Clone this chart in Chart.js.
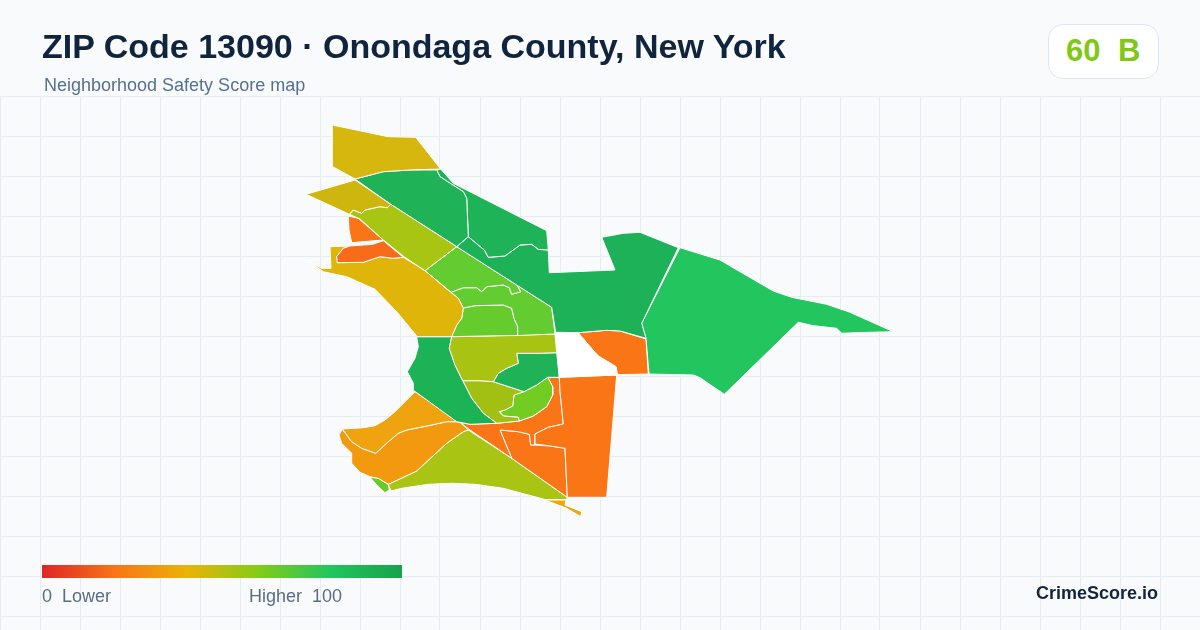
<!DOCTYPE html>
<html><head><meta charset="utf-8">
<script src="https://cdn.jsdelivr.net/npm/chart.js@4"></script>
<style>
html,body{margin:0;padding:0;background:#f8fafc;width:1200px;height:630px;overflow:hidden;font-family:"Liberation Sans",Arial,sans-serif}
#wrap{position:relative;width:1200px;height:630px}
canvas{position:absolute;left:0;top:0}
.t{position:absolute;white-space:pre;line-height:1}
#title{left:42px;top:29px;font-size:34px;font-weight:700;color:#10243e}
#sub{left:44px;top:76px;font-size:18px;color:#56708f}
#badge{position:absolute;left:1048px;top:24px;width:109px;height:53px;background:#fff;border:1px solid #dde5ef;border-radius:15px}
#score{left:1066px;top:35px;font-size:31px;font-weight:700;color:#7fc916}
#grade{left:1118px;top:35px;font-size:31px;font-weight:700;color:#7fc916}
#bar{position:absolute;left:42px;top:565px;width:360px;height:13px;background:linear-gradient(90deg,#dc2626 0%,#f97316 20%,#eab308 40%,#84cc16 60%,#22c55e 80%,#16a34a 100%)}
#lo{left:42px;top:587px;font-size:18px;color:#5b6c85}
#hi{left:249px;top:587px;font-size:18px;color:#5b6c85}
#brand{right:42px;top:584px;font-size:18px;font-weight:700;color:#14243c}
</style></head><body>
<div id="wrap">
<canvas id="c" width="1200" height="630"></canvas>
<div class="t" id="title">ZIP Code 13090 · Onondaga County, New York</div>
<div class="t" id="sub">Neighborhood Safety Score map</div>
<div id="badge"></div><div class="t" id="score">60</div><div class="t" id="grade">B</div>
<div id="bar"></div>
<div class="t" id="lo">0  Lower</div><div class="t" id="hi">Higher  100</div>
<div class="t" id="brand">CrimeScore.io</div>
</div>
<script>
const gridX=[0,40,80,120,160,200,240,280,320,360,400,440,480,520,560,600,640,680,720,760,800,840,880,920,960,1000,1040,1080,1120,1160,1200];
const gridY=[96,136,176,216,256,296,336,376,416,456,496,536,576,616];

const northGold=[[332.3,125],[388.3,136.7],[415.7,137.3],[440.7,169],[410,170],[383.3,171.7],[355,179],[332.7,166.7]];
const westWedge=[[306,194.3],[355,180],[390.7,204.3],[387.3,207.7],[380,206.7],[365,210],[361.7,213.3],[353.3,210],[349.3,214.3]];
const northOlive=[[390.7,204.3],[456.7,246.7],[425,270.7],[404,256.7],[383.3,240],[360,219],[349.3,214.3],[353.3,210],[361.7,213.3],[365,210],[380,206.7],[387.3,207.7]];
const redUpper=[[348.3,216],[358.3,218.3],[383.3,240],[351.7,242.7],[349,230]];
const redLower=[[350,246],[372.7,244.3],[383.3,240.7],[403.3,257.3],[393.3,258.3],[380,256.7],[363.3,262.3],[337.3,262.7],[336.7,256.7],[343.3,248.3]];
const westGold=[[330,246.7],[350,246],[343.3,248.3],[336.7,256.7],[337.3,262.7],[363.3,262.3],[380,256.7],[393.3,258.3],[403.3,257.3],[425,270.7],[450,291.7],[458.3,298.3],[463.3,308.3],[461.7,318.3],[456.7,325],[451.7,336.7],[417.3,336.7],[396.7,311.7],[375,289.3],[346.7,276.7],[323.3,271.7],[309.3,261.7],[321.7,268.3],[331,268.3]];
const northGreen=[[355,179],[383.3,171.7],[410,170],[436.7,170],[440,176.7],[463.3,191.7],[466.7,198.3],[468.3,236.7],[456.7,246.7],[390.7,204.3]];
const northEastGreen=[[440.7,169],[453.3,183.3],[546.7,230.7],[548.3,250],[538.3,249.3],[531.7,244.3],[520,245],[505,256],[488.3,257.3],[484.3,250],[468.3,236.7],[466.7,198.3],[463.3,191.7],[440,176.7],[436.7,170]];
const centralGreen=[[456.7,246.7],[468.3,236.7],[484.3,250],[488.3,257.3],[505,256],[520,245],[531.7,244.3],[538.3,249.3],[548.3,250],[549.3,272.7],[615,270],[601.7,237.3],[623.3,233.3],[640,232.3],[678.3,247.7],[641.7,323.3],[646,338.3],[620,331],[606.7,330.3],[578.3,332.7],[555.7,332.3],[551.7,307.3],[516.7,285]];
const eastGreen=[[680,247.7],[720,260],[740,271.7],[773.3,291],[791.7,297.3],[826.7,304.3],[850,312.3],[893.3,331.7],[855,332.7],[841.7,333.3],[836.7,328.3],[813.3,325.7],[798.3,322.3],[724.3,394.3],[700,377.7],[693.3,375],[649,374],[646,338.3],[641.7,323.3]];
const eastOrange=[[578.3,332.7],[606.7,330.3],[620,331],[646,339],[648.3,374],[617.3,374.7],[616,366.7],[598.3,356],[590,346.7]];
const blankZone=[[555.7,333],[578.3,333],[590,346.7],[598.3,356],[616,366.7],[617.3,375],[559.3,377.3]];
const limeNorth=[[456.7,246.7],[516.7,285],[520.7,291.7],[511.7,294.3],[509.3,287.7],[503.3,285],[486.7,286.7],[481.7,291.7],[476.7,287.7],[463.3,287.7],[451,292.3],[425,270.7]];
const limeEast=[[516.7,285],[551.7,307.3],[555,334],[517.7,335.5],[517.7,326.7],[514,318.3],[511.7,308.3],[503.3,305],[475,305.7],[463.3,308],[458.3,298.3],[451,292.3],[463.3,287.7],[476.7,287.7],[481.7,291.7],[486.7,286.7],[503.3,285],[509.3,287.7],[511.7,294.3],[520.7,291.7]];
const limeSouth=[[463.3,308],[475,305.7],[503.3,305],[511.7,308.3],[514,318.3],[517.7,326.7],[517.7,335.5],[483.3,336],[451.7,336.7],[456.7,325],[461.7,318.3]];
const centralOlive=[[451.7,336.7],[486.7,336],[555,334],[556.7,352.7],[540,353.3],[516.7,353.3],[518.3,363.3],[506.7,368.3],[498.3,373.3],[493.3,381.7],[480,380.7],[462.7,380.7],[455,365],[449.3,348.3]];
const innerGreen=[[516.7,353.3],[540,353.3],[556.7,352.7],[559.3,377.3],[547.7,377.3],[536.7,385],[524,391.7],[493.3,381.7],[498.3,373.3],[506.7,368.3],[518.3,363.3]];
const westGreen=[[416.7,336.7],[451.7,336.7],[449.3,348.3],[455,365],[462.7,380.7],[471.7,398.3],[483.3,413.3],[496.7,423.3],[470,424.3],[456.7,421.7],[414,390.7],[413.3,383.3],[407.3,371.7],[415,358.3],[418.3,346.7]];
const lowerOlive=[[462.7,380.7],[480,380.7],[493.3,381.7],[524,391.7],[514,395],[512.7,406],[505,410],[499.3,411.7],[503.3,416],[518.3,417.3],[519.3,421],[496.7,423.3],[483.3,413.3],[471.7,398.3]];
const brightGreen=[[524,391.7],[536.7,385],[547.7,377.3],[552.7,386.7],[552.7,395],[546.7,406.7],[533.3,416],[519.3,421],[518.3,417.3],[503.3,416],[499.3,411.7],[505,410],[512.7,406],[514,395]];
const tallOrange=[[559.3,377.3],[616.7,375],[606.7,497.3],[567.3,497.3],[565,448.3],[550,446],[535,444],[535,434],[548.3,427.3],[563.3,424],[560,391.7]];
const stripOrange=[[547.7,377.3],[559.3,377.3],[560,391.7],[563.3,424],[548.3,427.3],[535,434],[535,445],[530.7,445],[529.3,434.3],[518.3,431.7],[500,430],[511.7,458.3],[470,430],[460,422.3],[470,424.3],[496.7,423.3],[519.3,421],[533.3,416],[546.7,406.7],[552.7,395],[552.7,386.7]];
const southOrange=[[500,430],[518.3,431.7],[529.3,434.3],[530.7,445],[535,445],[550,446],[565,448.3],[567.3,497.3],[511.7,458.3]];
const shoreAmber=[[415,391.7],[460,422.3],[456.7,421.7],[446.7,421.7],[428.3,425.7],[406.7,430],[398.3,433.3],[388.3,441.7],[375.7,453.3],[361.7,448.3],[351.7,441.7],[342.3,429],[363.3,427.7],[375,425.7],[385,420],[395,411.7],[406.7,400]];
const southWestOrange=[[460,422.3],[468.3,430],[463.3,431.7],[446.7,443.3],[425,463.3],[416.7,471],[388.3,484.3],[378.3,478.3],[370,476.7],[360,472.3],[351.7,463.3],[351.7,453.3],[341.7,443.3],[339,435],[342.3,429],[351.7,441.7],[361.7,448.3],[375.7,453.3],[388.3,441.7],[398.3,433.3],[406.7,430],[428.3,425.7],[446.7,421.7],[456.7,421.7]];
const tipGreen=[[370,477.3],[378.3,478.3],[388.3,484.3],[389.3,490],[385,492.7],[378.3,486.7]];
const southOlive=[[468.3,430],[511.7,458.3],[567.3,497.3],[566.7,499.5],[545,499.5],[503.3,488.3],[475,484.3],[451.7,483.3],[428.3,484.3],[401.7,488.3],[391,491],[388.3,484.3],[416.7,471],[425,463.3],[446.7,443.3],[463.3,431.7]];
const southTip=[[545,500],[566,500],[565,505],[581.7,511.7],[580.7,516.7],[566.7,508.3]];

const zones=[
 [blankZone,'#ffffff'],[northGold,'#d5b70e'],[westWedge,'#cfb60f'],[northOlive,'#a8c513'],[redUpper,'#f97516'],[redLower,'#f86b1a'],[westGold,'#dfb50a'],
 [northGreen,'#1fb257'],[northEastGreen,'#1fb357'],[centralGreen,'#1eb258'],[eastGreen,'#23c55e'],[eastOrange,'#f97516'],
 [limeNorth,'#62cc30'],[limeEast,'#63cc30'],[limeSouth,'#66cc2e'],[centralOlive,'#a9c313'],[innerGreen,'#1fb257'],[westGreen,'#1cb356'],
 [lowerOlive,'#a2c014'],[brightGreen,'#72cc22'],[tallOrange,'#fa7516'],[stripOrange,'#f97516'],[southOrange,'#f97516'],
 [shoreAmber,'#efa30e'],[southWestOrange,'#f2990f'],[tipGreen,'#6bc928'],[southOlive,'#a9c412'],[southTip,'#e9a80d']
];

new Chart(document.getElementById('c'),{
 type:'scatter',
 data:{datasets:zones.map(([pts,color])=>({
   data:pts.concat([pts[0]]).map(([x,y])=>({x,y})),
   showLine:true,fill:'shape',backgroundColor:color,borderColor:'#ffffff',borderWidth:1,
   borderJoinStyle:'round',pointRadius:0,tension:0
 }))},
 options:{
  responsive:false,animation:false,devicePixelRatio:1,
  layout:{padding:{top:96,left:0,right:0,bottom:0}},
  plugins:{legend:{display:false},tooltip:{enabled:false}},
  scales:{
   x:{type:'linear',min:0,max:1200,afterBuildTicks:a=>{a.ticks=gridX.map(v=>({value:v}))},
      ticks:{display:false},border:{display:false},grid:{color:'#e5edf1',lineWidth:1,drawTicks:false}},
   y:{type:'linear',reverse:true,min:96,max:630,afterBuildTicks:a=>{a.ticks=gridY.map(v=>({value:v}))},
      ticks:{display:false},border:{display:false},grid:{color:'#e5edf1',lineWidth:1,drawTicks:false}}
  }
 }
});
</script>
</body></html>
